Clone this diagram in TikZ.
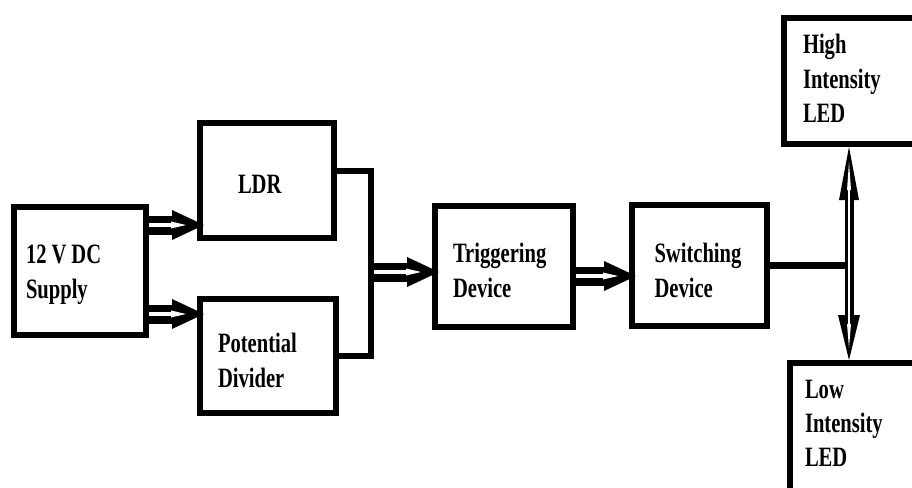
\documentclass[tikz,border=0pt]{standalone}
\usepackage{fontspec}
\newfontfamily\lbl[FakeStretch=0.735,WordSpace=0.75]{Liberation Serif}
\usetikzlibrary{arrows.meta}

\tikzset{
  box/.style={draw, rectangle, line width=6pt, inner sep=0pt, align=left,
    font=\lbl\bfseries\fontsize{28}{35}\selectfont, text height=19pt},
  wire/.style={line width=6pt},
  fat/.style={line width=19pt, shorten >=-7pt,
    -{Triangle[length=32pt,width=30pt,line width=0pt]},
    postaction={draw=white, line width=4pt, shorten >=11pt,
      -{Triangle[length=15pt,width=7pt,line width=0pt]}}},
  vdbl/.style={line width=9pt,
    {Triangle[length=53pt,width=20pt,line width=0pt]}-{Triangle[length=45pt,width=22pt,line width=0pt]},
    postaction={draw=white, line width=2pt, shorten <=15pt, shorten >=12pt,
      {Triangle[length=28pt,width=4pt,line width=0pt]}-{Triangle[length=24pt,width=4pt,line width=0pt]}}}
}

\begin{document}
\begin{tikzpicture}[x=1pt,y=-1pt]
\useasboundingbox (0,0) rectangle (912,487);
\clip (0,0) rectangle (912,487);

% blocks
\node[box, minimum width=132pt, minimum height=128pt, text width=108pt, text depth=35pt]
  (supply) at (80,271) {12\hspace{5pt}V\hspace{5pt}DC\\Supply};
\node[box, minimum width=134pt, minimum height=115pt, text width=58pt, text height=25pt, text depth=0pt]
  (ldr) at (267,180.5) {LDR};
\node[box, minimum width=136pt, minimum height=114pt, text width=100pt, text depth=27pt]
  (pot) at (268,356) {Potential\\Divider};
\node[box, minimum width=138pt, minimum height=121pt, text width=102pt, text depth=28pt]
  (trig) at (504,266.5) {Triggering\\Device};
\node[box, minimum width=135pt, minimum height=121pt, text width=90pt, text depth=26pt]
  (sw) at (699.5,265.5) {Switching\\Device};
\node[box, minimum width=146pt, minimum height=126pt, text width=108pt, text depth=75pt]
  (high) at (857,81) {High\\Intensity\\LED};
\node[box, minimum width=140pt, minimum height=132pt, text width=110pt, text depth=81pt,
  font=\lbl\bfseries\fontsize{28}{34}\selectfont]
  (low) at (860,429) {Low\\Intensity\\LED};

% helper points
\coordinate (busx) at (371,0);
\coordinate (busedge) at (374,0);
\coordinate (vx) at (849,0);
\path ([yshift=46pt]supply.east) coordinate (s1)
      ([yshift=-43pt]supply.east) coordinate (s2)
      ([yshift=-5.5pt]trig.west) coordinate (tin)
      ([yshift=-9.5pt]trig.east) coordinate (tout);

% supply feeds
\draw[fat] (s1) -- (s1 -| ldr.west);
\draw[fat] (s2) -- (s2 -| pot.west);

% sensor bus into the trigger
\draw[wire] ([yshift=10pt]ldr.east) -| (busx |- pot.east) -- (pot.east);
\draw[fat] (busedge |- tin) -- (tin);

% trigger to switch
\draw[fat] (tout) -- (tout -| sw.west);

% switch output to the LEDs
\draw[wire, line width=7pt] (sw.east) -- (sw.east -| vx);
\draw[vdbl] (high.south -| vx) -- (low.north -| vx);
\end{tikzpicture}
\end{document}
